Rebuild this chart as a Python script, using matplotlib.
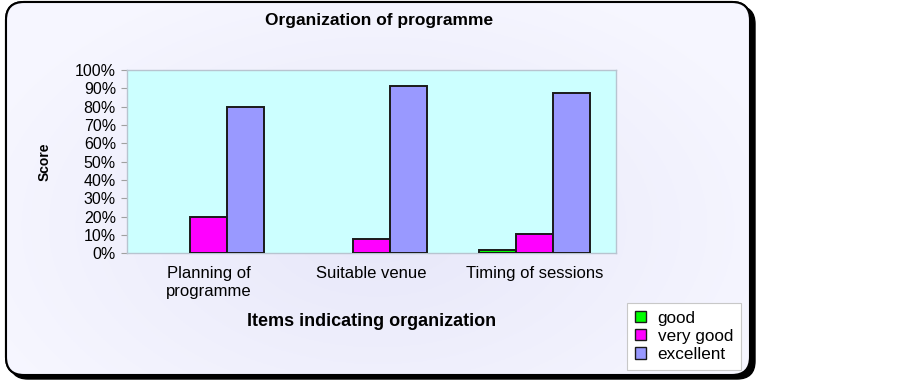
import numpy as np
import matplotlib
matplotlib.use("Agg")
import matplotlib.pyplot as plt
from matplotlib.patches import FancyBboxPatch

categories = ["Planning of\nprogramme", "Suitable venue", "Timing of sessions"]
series_names = ["good", "very good", "excellent"]
good = [0, 0, 2]
very_good = [20, 8, 10.5]
excellent = [80, 91.5, 87.5]
yticks = [0, 10, 20, 30, 40, 50, 60, 70, 80, 90, 100]
ytick_labels = [f"{v}%" for v in yticks]
colors = ["#00FF00", "#FF00FF", "#9999FF"]

plt.rcParams['font.family'] = ['Liberation Sans', 'DejaVu Sans']

W, H = 903, 381
fig = plt.figure(figsize=(W / 100, H / 100), dpi=100)
fig.patch.set_facecolor("white")

# background frame axes in pixel coords
bg = fig.add_axes([0, 0, 1, 1])
bg.set_xlim(0, W)
bg.set_ylim(H, 0)
bg.axis("off")
shadow = FancyBboxPatch((10, 6), 745, 373, boxstyle="round,pad=0,rounding_size=18",
                        facecolor="black", edgecolor="black", lw=1)
bg.add_patch(shadow)
frame = FancyBboxPatch((6, 2), 744, 373, boxstyle="round,pad=0,rounding_size=18",
                       facecolor="#F0F0FC", edgecolor="black", lw=1.5)
bg.add_patch(frame)
# soft gradient: slightly darker near the plot, lighter at the edges
yy, xx = np.mgrid[0:1:200j, 0:1:400j]
d = np.sqrt(((xx - 0.5) * 1.0) ** 2 + ((yy - 0.6) * 0.8) ** 2)
c_center = np.array([0.905, 0.905, 0.975])
c_edge = np.array([0.965, 0.965, 1.0])
t = np.clip(d * 1.8, 0, 1)[..., None]
img = c_center * (1 - t) + c_edge * t
im = bg.imshow(img, extent=(6, 750, 375, 2), aspect="auto", zorder=2)
im.set_clip_path(frame)
frame2 = FancyBboxPatch((6, 2), 744, 373, boxstyle="round,pad=0,rounding_size=18",
                        facecolor="none", edgecolor="black", lw=1.5, zorder=3)
bg.add_patch(frame2)

ax = fig.add_axes([127 / W, 1 - 253.3 / H, (616 - 127) / W, (253.3 - 70) / H])
ax.set_facecolor("#CCFFFF")
x = np.arange(len(categories))
w = 0.227
for i, (vals, name, col) in enumerate(zip([good, very_good, excellent], series_names, colors)):
    bars = ax.bar(x + (i - 1) * w, vals, width=w, color=col, edgecolor="#1a1a1a",
                  linewidth=1.4, label=name, zorder=3)
    for b, v in zip(bars, vals):
        if v == 0:
            b.set_linewidth(0)

ax.set_xlim(-0.5, 2.5)
ax.set_ylim(0, 100)
ax.set_yticks(yticks)
ax.set_yticklabels(ytick_labels, fontsize=11.5)
ax.set_xticks(x)
ax.set_xticklabels(categories, fontsize=12, linespacing=1.3, va="top")
ax.tick_params(axis="x", length=0, pad=9)
ax.tick_params(axis="y", length=4, color="#A0A0A0", pad=4)
for s in ax.spines.values():
    s.set_color("#B8C4D0")
    s.set_linewidth(1)

ax.set_ylabel("Score", fontsize=10, fontweight="bold", labelpad=17)
fig.text(379 / W, 1 - 21 / H, "Organization of programme", ha="center", va="center",
         fontsize=12.5, fontweight="bold")
fig.text(372 / W, 1 - 321 / H, "Items indicating organization", ha="center", va="center",
         fontsize=13, fontweight="bold")

leg = fig.legend(loc="upper left", bbox_to_anchor=(627 / W, 1 - 303 / H), fontsize=12.3,
                 handlelength=0.65, handleheight=0.65, handletextpad=0.7,
                 labelspacing=0.18, borderpad=0.45, borderaxespad=0,
                 fancybox=False, framealpha=1)
leg.get_frame().set_edgecolor("#C8C8C8")
leg.get_frame().set_linewidth(0.8)
for h in leg.legend_handles:
    h.set_linewidth(1)

fig.savefig("out.png", dpi=100)
